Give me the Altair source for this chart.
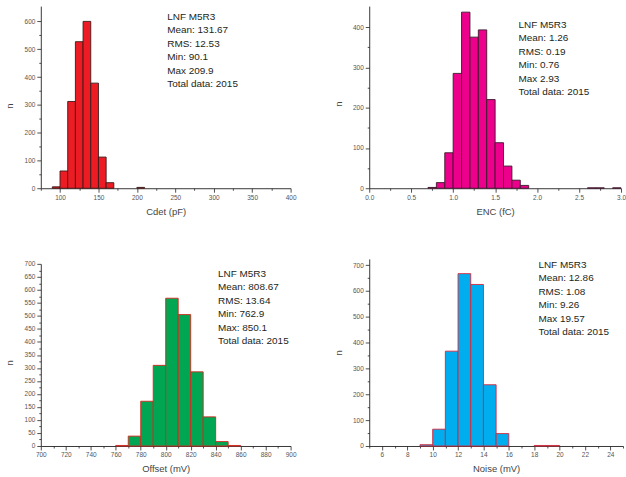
import altair as alt
import pandas as pd

FONT = "Liberation Sans"

# ---- data ----
cdet_bins = [90, 100, 110, 120, 130, 140, 150, 160, 200]
cdet_counts = [5, 62, 312, 527, 600, 378, 112, 20, 3]
cdet_stats = ["LNF M5R3", "Mean: 131.67", "RMS: 12.53", "Min: 90.1", "Max 209.9", "Total data: 2015"]

enc_bins = [0.7, 0.8, 0.9, 1.0, 1.1, 1.2, 1.3, 1.4, 1.5, 1.6, 1.7, 1.8, 2.6, 2.7, 2.9]
enc_counts = [2, 14, 88, 285, 437, 375, 393, 220, 113, 55, 20, 7, 1, 1, 1]
enc_stats = ["LNF M5R3", "Mean: 1.26", "RMS: 0.19", "Min: 0.76", "Max 2.93", "Total data: 2015"]

off_bins = [760, 770, 780, 790, 800, 810, 820, 830, 840, 850]
off_counts = [2, 38, 172, 310, 568, 505, 285, 112, 17, 2]
off_stats = ["LNF M5R3", "Mean: 808.67", "RMS: 13.64", "Min: 762.9", "Max: 850.1", "Total data: 2015"]

noise_bins = [9, 10, 11, 12, 13, 14, 15, 18, 19]
noise_counts = [5, 65, 367, 667, 625, 237, 48, 2, 2]
noise_stats = ["LNF M5R3", "Mean: 12.86", "RMS: 1.08", "Min: 9.26", "Max 19.57", "Total data: 2015"]


def frange(a, b, s):
    out = []
    i = 0
    while True:
        v = round(a + i * s, 6)
        if v > b + 1e-9:
            break
        out.append(v)
        i += 1
    return out


def make_axis(ticks, major, title, fmt, orient, title_pos, title_y=None):
    major_test = f"abs(datum.value/{major} - round(datum.value/{major})) < 0.000001"
    minor_test = f"!({major_test})"
    kw = dict(
        values=ticks,
        format=fmt,
        title=title,
        labelExpr=f"({major_test}) ? datum.label : ''",
        tickSize={"condition": {"test": minor_test, "value": 2}, "value": 4},
        tickColor="#222",
        tickWidth=0.8,
        domainColor="#222",
        domainWidth=0.9,
        labelFont=FONT,
        labelFontSize=6.5,
        labelColor="#555",
        labelPadding=2,
        labelFlush=False,
        labelOverlap=False,
        titleFont=FONT,
        titleFontSize=9.5,
        titleFontWeight="normal",
        titleColor="#444",
        grid=False,
    )
    if orient == "bottom":
        kw.update(titleY=title_pos, titleBaseline="middle")
    else:
        kw.update(titleX=title_pos, titleBaseline="middle", titleAlign="center", titleAngle=-90)
        if title_y is not None:
            kw.update(titleY=title_y)
    return alt.Axis(**kw)


def panel(bins, counts, binw, fill, stroke, xdom, xticks, xmajor, xfmt, xtitle,
          ydom, yticks, ymajor, stats, w, h, tx, ty, yrange=None, ytitle_y=None):
    df = pd.DataFrame({"start": bins, "count": counts})
    yscale = alt.Scale(domain=ydom, range=yrange) if yrange else alt.Scale(domain=ydom)
    bars = (
        alt.Chart(df)
        .transform_calculate(end=f"datum.start + {binw}")
        .mark_rect(fill=fill, stroke=stroke, strokeWidth=0.9)
        .encode(
            x=alt.X("start:Q", scale=alt.Scale(domain=xdom, nice=False, zero=False),
                    axis=make_axis(xticks, xmajor, xtitle, xfmt, "bottom", 23)),
            x2="end:Q",
            y=alt.Y("count:Q", scale=yscale,
                    axis=make_axis(yticks, ymajor, "n", "d", "left", -31, ytitle_y)),
            y2=alt.Y2(datum=0),
        )
    )
    text = (
        alt.Chart(pd.DataFrame({"k": [0]}))
        .mark_text(text=stats, align="left", baseline="top", lineHeight=13.5,
                   fontSize=10, font=FONT, color="#231f20")
        .encode(x=alt.value(tx), y=alt.value(ty))
    )
    return alt.layer(bars, text).properties(width=w, height=h)


p1 = panel(cdet_bins, cdet_counts, 10, "#ED1C24", "#3a1a1a",
           [75, 400], frange(75, 400, 25), 50, "d", "Cdet (pF)",
           [0, 655], frange(0, 600, 50), 100, cdet_stats, 251, 183, 127, 6, ytitle_y=100)
p2 = panel(enc_bins, enc_counts, 0.1, "#EC008C", "#3a1a2a",
           [0, 3], frange(0, 3, 0.25), 0.5, ".1f", "ENC (fC)",
           [0, 452], frange(0, 400, 50), 100, enc_stats, 253, 183, 150, 14, ytitle_y=98)
p3 = panel(off_bins, off_counts, 10, "#00A651", "#D7261E",
           [700, 900], frange(700, 900, 10), 20, "d", "Offset (mV)",
           [0, 700], frange(0, 700, 25), 50, off_stats, 251, 188, 178, 10, yrange=[188, 5],
           ytitle_y=104)
p4 = panel(noise_bins, noise_counts, 1, "#00AEEF", "#D7263A",
           [5, 25], frange(5, 25, 1), 2, "d", "Noise (mV)",
           [0, 724], frange(0, 700, 50), 100, noise_stats, 255, 188, 170, 1)

chart = (
    alt.concat(p1, p2, p3, p4, columns=2, spacing={"row": 71, "column": 79}, bounds="flush")
    .properties(padding={"left": 5, "top": 5, "right": 0, "bottom": 0}, background="white")
    .configure_view(stroke=None)
)

chart.save("out.html", embed_options={"renderer": "svg", "actions": False})
